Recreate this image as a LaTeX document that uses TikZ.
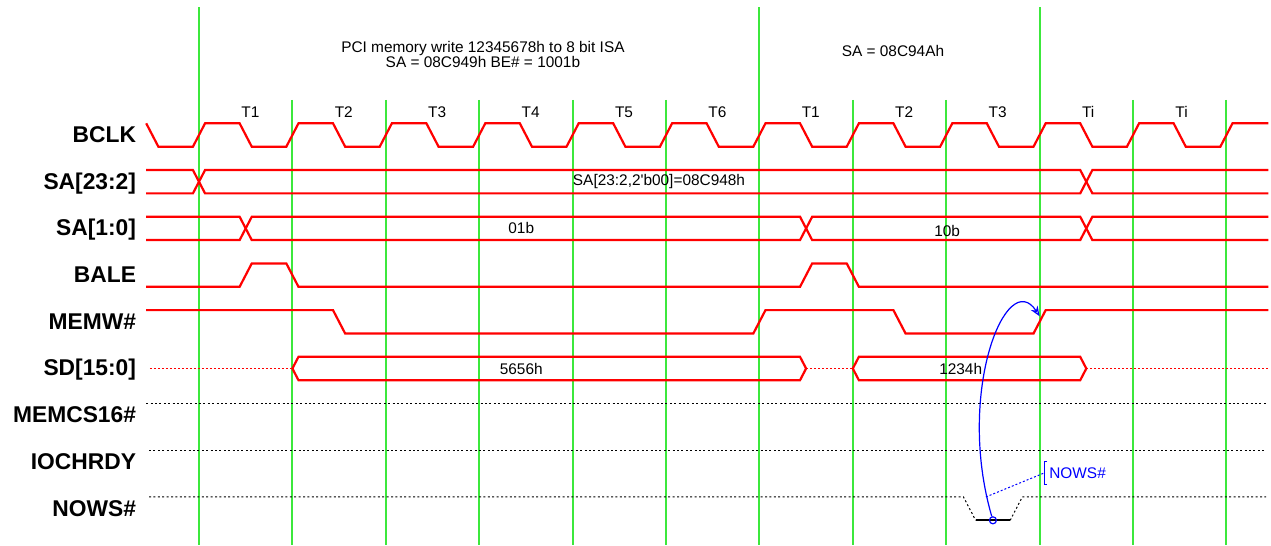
\documentclass[tikz,border=0pt]{standalone}
\usepackage{fontspec}
\setmainfont{Liberation Sans}
\usetikzlibrary{arrows.meta}
\definecolor{gridgreen}{RGB}{60,232,60}

\begin{document}
\begin{tikzpicture}[x=23.35pt, y=-23.35pt,
    sig/.style={red, line width=1.1pt, line join=miter},
    hiz/.style={red, line width=0.5pt, dash pattern=on 1pt off 1pt},
    idle/.style={black, line width=0.5pt, dash pattern=on 1pt off 1.2pt},
    clkline/.style={gridgreen, line width=1pt},
    signame/.style={font=\fontsize{11.4}{13}\selectfont\bfseries, anchor=base east, inner sep=0pt},
    note/.style={font=\fontsize{7.7}{7.6}\selectfont, inner sep=0pt}]

    % --- 定义参数 (单位: 半个时钟周期, 行距) ---
    \def\sigA{0.25}    % 信号半幅
    \def\edgeW{0.13}   % 边沿半宽
    \def\tL{-1.13}     % 波形左端
    \def\tR{22.9}      % 波形右端

    % --- 固定边界 ---
    \useasboundingbox (-4.261,-2.891) rectangle (22.955,8.779);

    % --- 绿色时钟参考线 ---
    \foreach \k in {0,...,11} {
        \draw[clkline] (2*\k,-0.75) -- (2*\k,8.78);
    }
    % 周期起点的长线
    \foreach \c in {0,12,18} {
        \draw[clkline] (\c,-2.74) -- (\c,-0.74);
    }

    % --- 标题 ---
    \node[note, align=center] (title) at (6.08,-1.72) {PCI memory write 12345678h to 8 bit ISA\\SA = 08C949h BE\# = 1001b};
    \node[note] (nextaddr) at (14.86,-1.80) {SA = 08C94Ah};

    % --- 周期标签 ---
    \foreach \lab [count=\i from 0] in {T1,T2,T3,T4,T5,T6,T1,T2,T3,Ti,Ti} {
        \node[note, anchor=base west] (cyc\i) at (2*\i+0.9,-0.38) {\lab};
    }

    % --- 信号名 ---
    \foreach \lab [count=\r from 0] in {BCLK,SA[23:2],SA[1:0],BALE,MEMW\#,SD[15:0],MEMCS16\#,IOCHRDY,NOWS\#} {
        \node[signame] (name\r) at (-1.34,\r+0.16) {\lab};
    }

    % --- BCLK ---
    \draw[sig] (-1-\edgeW,-\sigA) -- (-1+\edgeW,\sigA)
        \foreach \k in {0,...,10} {
            -- (2*\k-\edgeW,\sigA) -- (2*\k+\edgeW,-\sigA)
            -- (2*\k+1-\edgeW,-\sigA) -- (2*\k+1+\edgeW,\sigA)
        }
        -- (22-\edgeW,\sigA) -- (22+\edgeW,-\sigA) -- (\tR,-\sigA);

    % --- SA[23:2] ---
    \draw[sig] (\tL,0.75) -- (-\edgeW,0.75) -- (\edgeW,1.25) -- (19-\edgeW,1.25) -- (19+\edgeW,0.75) -- (\tR,0.75);
    \draw[sig] (\tL,1.25) -- (-\edgeW,1.25) -- (\edgeW,0.75) -- (19-\edgeW,0.75) -- (19+\edgeW,1.25) -- (\tR,1.25);
    \node[note] (sahigh) at (9.85,1) {SA[23:2,2\textquotesingle b00]=08C948h};

    % --- SA[1:0] ---
    \draw[sig] (\tL,1.75) -- (1-\edgeW,1.75) -- (1+\edgeW,2.25) -- (13-\edgeW,2.25) -- (13+\edgeW,1.75)
        -- (19-\edgeW,1.75) -- (19+\edgeW,2.25) -- (\tR,2.25);
    \draw[sig] (\tL,2.25) -- (1-\edgeW,2.25) -- (1+\edgeW,1.75) -- (13-\edgeW,1.75) -- (13+\edgeW,2.25)
        -- (19-\edgeW,2.25) -- (19+\edgeW,1.75) -- (\tR,1.75);
    \node[note] (salowa) at (6.9,2) {01b};
    \node[note] (salowb) at (16.02,2.06) {10b};

    % --- BALE ---
    \draw[sig] (\tL,3.25) -- (1-\edgeW,3.25) -- (1+\edgeW,2.75) -- (2-\edgeW,2.75) -- (2+\edgeW,3.25)
        -- (13-\edgeW,3.25) -- (13+\edgeW,2.75) -- (14-\edgeW,2.75) -- (14+\edgeW,3.25) -- (\tR,3.25);

    % --- MEMW# ---
    \draw[sig] (\tL,3.75) -- (3-\edgeW,3.75) -- (3+\edgeW,4.25) -- (12-\edgeW,4.25) -- (12+\edgeW,3.75)
        -- (15-\edgeW,3.75) -- (15+\edgeW,4.25) -- (18-\edgeW,4.25) -- (18+\edgeW,3.75) -- (\tR,3.75);

    % --- SD[15:0] (高阻用红色点线) ---
    \draw[hiz] (-1.05,5) -- (2,5);
    \draw[sig] (2,5) -- (2+\edgeW,4.75) -- (13-\edgeW,4.75) -- (13,5) -- (13-\edgeW,5.25) -- (2+\edgeW,5.25) -- cycle;
    \draw[hiz] (13,5) -- (14,5);
    \draw[sig] (14,5) -- (14+\edgeW,4.75) -- (19-\edgeW,4.75) -- (19,5) -- (19-\edgeW,5.25) -- (14+\edgeW,5.25) -- cycle;
    \draw[hiz] (19,5) -- (\tR,5);
    \node[note] (sdfirst) at (6.9,5) {5656h};
    \node[note] (sdsecond) at (16.31,5) {1234h};

    % --- MEMCS16#, IOCHRDY, NOWS# (未驱动) ---
    \draw[idle] (\tL,5.75) -- (\tR-0.05,5.75);
    \draw[idle] (-1.07,6.75) -- (\tR-0.05,6.75);
    \draw[idle] (-1.07,7.75) -- (16.5-\edgeW,7.75) -- (16.5+\edgeW,8.25);
    \draw[black, line width=1pt] (16.5+\edgeW,8.25) -- (17.5-\edgeW,8.25);
    \draw[idle] (17.5-\edgeW,8.25) -- (17.5+\edgeW,7.75) -- (\tR-0.05,7.75);

    % --- NOWS# 触发 MEMW# 提前结束 ---
    \node[circle, draw=blue, line width=0.6pt, inner sep=0pt, minimum size=3.5pt] (nowshit) at (17,8.25) {};
    \coordinate (memwedge) at (18,3.88);
    \draw[blue, line width=0.6pt, -{Stealth[open, length=5pt, width=4pt]}]
        (nowshit) .. controls (16.2,5.5) and (17.3,2.8) .. (memwedge);
    \coordinate (nowstap) at (16.85,7.75);
    \coordinate (nowsbrk) at (18.09,7.24);
    \draw[blue, line width=0.5pt, dash pattern=on 1pt off 1pt] (nowstap) -- (nowsbrk);
    \draw[blue, line width=0.5pt] (18.16,6.99) -- (18.11,6.99) -- (18.11,7.49) -- (18.16,7.49);
    \node[note, blue, anchor=west] (nowslab) at (18.2,7.24) {NOWS\#};

\end{tikzpicture}
\end{document}
